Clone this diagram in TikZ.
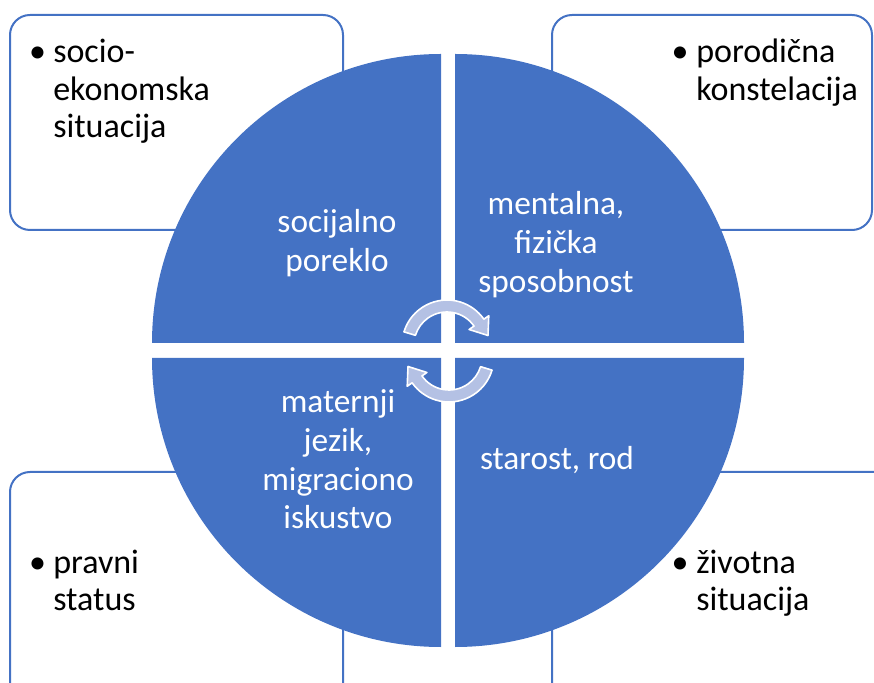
\documentclass[tikz,border=0pt]{standalone}
\usepackage{fontspec}
\setmainfont{Carlito}
\definecolor{quadblue}{RGB}{68,114,196}
\definecolor{cyclefill}{RGB}{180,193,228}
\tikzset{
  factorbox/.style={draw=quadblue, line width=1.5pt, rounded corners=15pt},
  quad/.style={fill=quadblue},
  bulletmark/.style={anchor=base, inner sep=0pt, font=\fontsize{25.5}{28}\selectfont},
  itemtext/.style={anchor=base west, inner sep=0pt, font=\fontsize{25.5}{28}\selectfont},
  quadtext/.style={anchor=base, inner sep=0pt, text=white, font=\fontsize{25}{29}\selectfont},
  cyc/.style={fill=cyclefill, draw=white, line width=1.2pt, line join=round},
}
\newcommand{\textrows}[2]{\begin{tabular}[t]{@{}#1@{}}#2\end{tabular}}
\begin{document}
\begin{tikzpicture}[x=0.75pt,y=0.75pt]
\useasboundingbox (0,0) rectangle (874,682);
\clip (0,0) rectangle (874,682);
% outer boxes
\draw[factorbox] (10,667) rectangle (343,452);
\draw[factorbox] (552,667) rectangle (872,452);
\draw[factorbox] (10,210) rectangle (343,-30);
\draw[factorbox] (552,210) rectangle (900,-30);
% quadrants
\fill[quad] (441,339) -- (152,339) arc[start angle=180, end angle=90, radius=289] -- cycle;
\fill[quad] (455,339) -- (455,628) arc[start angle=90, end angle=0, radius=289] -- cycle;
\fill[quad] (441,324) -- (152,324) arc[start angle=180, end angle=270, radius=289] -- cycle;
\fill[quad] (455,324) -- (744,324) arc[start angle=0, end angle=-90, radius=289] -- cycle;
% cycle arrows
\foreach \cx/\cy/\r in {447/337/0, 449/325/180}
  \path[cyc, shift={(\cx,\cy)}, rotate=\r] (163:45) arc[start angle=163, end angle=35, radius=45]
    -- (35:51) -- (41,9.5) -- (35:27) -- (35:33) arc[start angle=35, end angle=163, radius=33] -- cycle;
% quadrant labels
\node[quadtext] (q1) at (337,449) {\textrows{c}{socijalno\\poreklo}};
\node[quadtext] (q2) at (556,467) {\textrows{c}{mentalna,\\fizička\\sposobnost}};
\node[quadtext] (q3) at (338,269) {\textrows{c}{maternji\\jezik,\\migraciono\\iskustvo}};
\node[quadtext] (q4) at (557,212) {starost, rod};
% box items
\node[bulletmark] (b1) at (37.5,619) {\textbullet};
\node[itemtext] (t1) at (53,619) {\textrows{l}{socio-\\ekonomska\\situacija}};
\node[bulletmark] (b2) at (680,619) {\textbullet};
\node[itemtext] (t2) at (696,619) {\textrows{l}{porodična\\konstelacija}};
\node[bulletmark] (b3) at (37.5,109) {\textbullet};
\node[itemtext] (t3) at (53,109) {\textrows{l}{pravni\\status}};
\node[bulletmark] (b4) at (680,109) {\textbullet};
\node[itemtext] (t4) at (696,109) {\textrows{l}{životna\\situacija}};
\end{tikzpicture}
\end{document}
